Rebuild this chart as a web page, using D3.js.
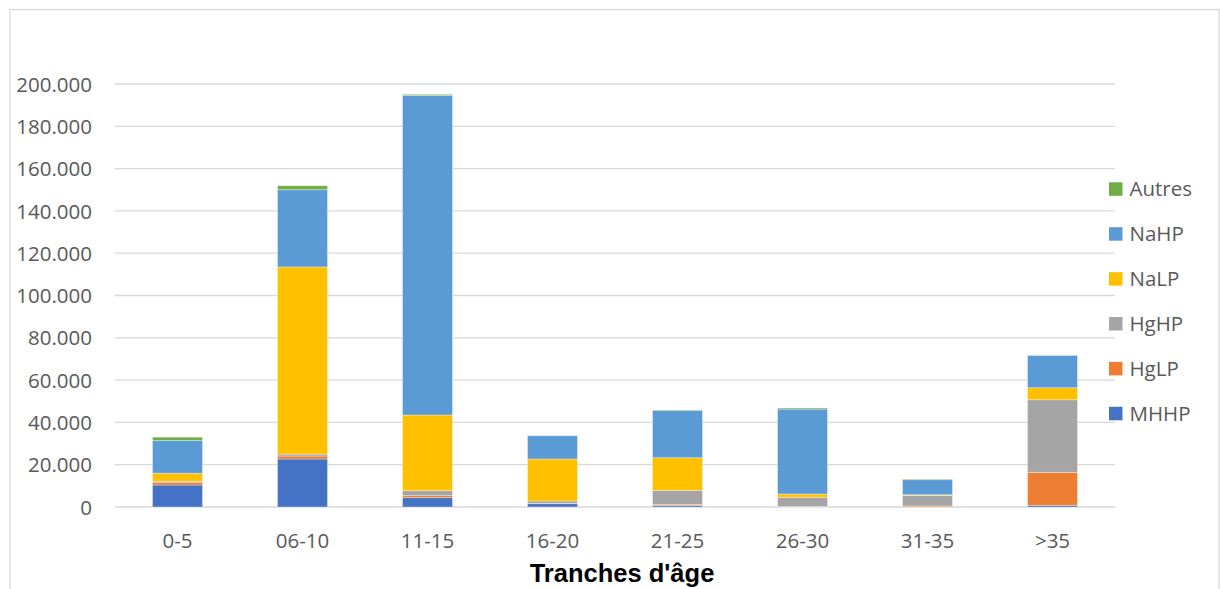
<!DOCTYPE html>
<html>
<head>
<meta charset="utf-8">
<script src="https://cdn.jsdelivr.net/npm/d3@7"></script>
<style>
  html, body { margin: 0; padding: 0; background: #fff; }
  svg { display: block; }
</style>
</head>
<body>
<svg id="chart" width="1220" height="589"></svg>
<script>
// Age brackets on the x axis
const categories = ["0-5", "06-10", "11-15", "16-20", "21-25", "26-30", "31-35", ">35"];

// Stacked series, bottom to top
const seriesNames = ["MHHP", "HgLP", "HgHP", "NaLP", "NaHP", "Autres"];
const MHHP   = [10400, 22700,   4400,  1560,   700,   100,    0,   800];
const HgLP   = [ 1300,  1400,    950,   200,   500,   100,  500, 15600];
const HgHP   = [  500,   900,   2350,  1080,  6700,  4400, 5000, 34300];
const NaLP   = [ 3800, 88500,  35800, 19860, 15400,  1550,  300,  5700];
const NaHP   = [15400, 36500, 151100, 11000, 22400, 40150, 7100, 15300];
const Autres = [ 1600,  1900,    500,   100,   200,   500,  300,   100];

const yTicks = [0, 20000, 40000, 60000, 80000, 100000, 120000, 140000, 160000, 180000, 200000];

const colors = {
  MHHP: "#4472C4", HgLP: "#ED7D31", HgHP: "#A5A5A5",
  NaLP: "#FFC000", NaHP: "#5B9BD5", Autres: "#70AD47"
};

const seriesValues = { MHHP, HgLP, HgHP, NaLP, NaHP, Autres };
const rows = categories.map((c, i) => {
  const r = { cat: c };
  seriesNames.forEach(s => r[s] = seriesValues[s][i]);
  return r;
});

const svg = d3.select("#chart");
const font = "'Open Sans', 'Liberation Sans', sans-serif";
const fs = 20.5;

// outer chart frame
svg.append("rect")
  .attr("x", 10).attr("y", 9.5).attr("width", 1209).attr("height", 600)
  .attr("fill", "none").attr("stroke", "#d9d9d9").attr("stroke-width", 1.3);

const plot = { left: 115, right: 1115, top: 84, bottom: 507 };

const x = d3.scaleBand().domain(categories)
  .range([plot.left, plot.right]).paddingInner(0.6).paddingOuter(0.3);
const y = d3.scaleLinear().domain([0, 200000]).range([plot.bottom, plot.top]);

const locale = d3.formatLocale({ decimal: ",", thousands: ".", grouping: [3], currency: ["", "€"] });
const fmt = locale.format(",d");

// horizontal gridlines
svg.append("g").selectAll("line").data(yTicks).join("line")
  .attr("x1", plot.left).attr("x2", plot.right)
  .attr("y1", d => y(d)).attr("y2", d => y(d))
  .attr("stroke", "#d9d9d9").attr("stroke-width", 1.3);

// y axis labels
const yAxis = d3.axisLeft(y).tickValues(yTicks).tickFormat(fmt).tickSize(0).tickPadding(0);
const gy = svg.append("g").attr("transform", `translate(92,0)`).call(yAxis);
gy.select(".domain").remove();
gy.selectAll("text")
  .attr("fill", "#595959").attr("font-family", font).attr("font-size", fs)
  .attr("dy", "0.35em");

// stacked bars
const stack = d3.stack().keys(seriesNames);
const layers = stack(rows);
svg.append("g").selectAll("g").data(layers).join("g")
  .attr("fill", d => colors[d.key])
  .selectAll("rect").data(d => d).join("rect")
  .attr("x", d => x(d.data.cat))
  .attr("width", x.bandwidth())
  .attr("y", d => y(d[1]))
  .attr("height", d => Math.max(0, y(d[0]) - y(d[1])))
  .attr("stroke", "#ffffff").attr("stroke-opacity", 0.45).attr("stroke-width", 0.75);

// x axis labels
const xAxis = d3.axisBottom(x).tickSize(0).tickPadding(0);
const gx = svg.append("g").attr("transform", `translate(0,${plot.bottom})`).call(xAxis);
gx.select(".domain").remove();
gx.selectAll("text")
  .attr("fill", "#595959").attr("font-family", font).attr("font-size", fs)
  .attr("y", 41).attr("dy", 0);

// x axis title
svg.append("text")
  .attr("x", 622).attr("y", 582)
  .attr("text-anchor", "middle")
  .attr("font-family", "'Liberation Sans', sans-serif").attr("font-weight", "bold")
  .attr("font-size", 25.5).attr("fill", "#000")
  .text("Tranches d'âge");

// legend, top entry is the top of the stack
const legendItems = seriesNames.slice().reverse();
const lg = svg.append("g").selectAll("g").data(legendItems).join("g")
  .attr("transform", (d, i) => `translate(1109,${189 + i * 44.9})`);
lg.append("rect").attr("x", 0).attr("y", -6.7).attr("width", 13.5).attr("height", 13.5)
  .attr("fill", d => colors[d]);
lg.append("text").attr("x", 20.5).attr("y", 0).attr("dy", "0.36em")
  .attr("fill", "#595959").attr("font-family", font).attr("font-size", fs)
  .text(d => d);
</script>
</body>
</html>
